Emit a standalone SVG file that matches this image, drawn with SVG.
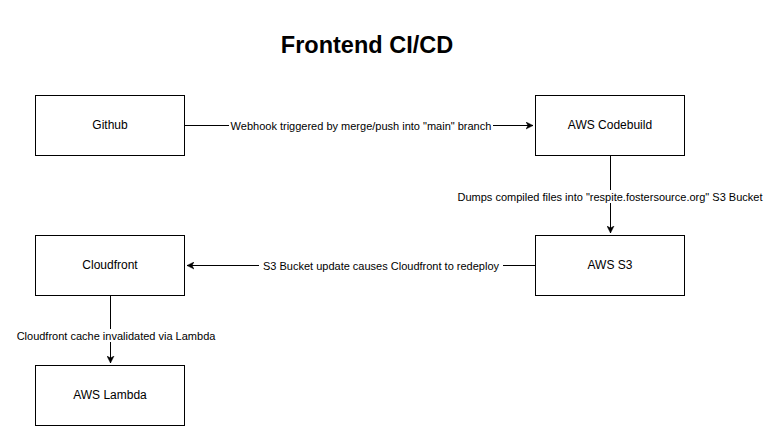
<svg xmlns="http://www.w3.org/2000/svg" width="777" height="441" viewBox="0 0 777 441">
<style>
.node rect{fill:#fff;stroke:#000;stroke-width:1}
.node text{font-family:"Liberation Sans",Arial,sans-serif;font-size:12px;fill:#000;text-anchor:middle;dominant-baseline:central}
.edge{stroke:#000;stroke-width:1;fill:none}
.lbl{font-family:"Liberation Sans",Arial,sans-serif;font-size:11px;fill:#000;text-anchor:middle;dominant-baseline:central}
.lblbg{fill:#fff}
.title{font-family:"Liberation Sans",Arial,sans-serif;font-size:23.5px;font-weight:bold;text-anchor:middle;fill:#000}
</style>
<defs>
<marker id="arr" markerWidth="8" markerHeight="8" refX="7" refY="4" orient="auto" markerUnits="userSpaceOnUse">
<path d="M0,0.5 L7,4 L0,7.5 L2,4 Z" fill="#000" stroke="#000" stroke-width="0.5"/>
</marker>
</defs>
<rect width="777" height="441" fill="#fff"/>
<text class="title" x="367" y="53">Frontend CI/CD</text>
<g id="connectors">
<path class="edge" d="M185,125.5 L533,125.5" marker-end="url(#arr)"/>
<rect class="lblbg" x="229" y="119" width="264" height="13"/>
<text class="lbl" x="361" y="126">Webhook triggered by merge/push into "main" branch</text>
<path class="edge" d="M610.5,155 L610.5,233" marker-end="url(#arr)"/>
<rect class="lblbg" x="457" y="190" width="306" height="13"/>
<text class="lbl" x="610" y="197">Dumps compiled files into "respite.fostersource.org" S3 Bucket</text>
<path class="edge" d="M535,265.5 L187,265.5" marker-end="url(#arr)"/>
<rect class="lblbg" x="259" y="259" width="244" height="13"/>
<text class="lbl" x="381" y="266">S3 Bucket update causes Cloudfront to redeploy</text>
<path class="edge" d="M110.5,295 L110.5,363" marker-end="url(#arr)"/>
<rect class="lblbg" x="16" y="329" width="200" height="13"/>
<text class="lbl" x="116" y="336">Cloudfront cache invalidated via Lambda</text>
</g>
<g id="github" class="node"><rect x="35.5" y="95.5" width="149" height="60"/><text x="110" y="125">Github</text></g>
<g id="codebuild" class="node"><rect x="535.5" y="95.5" width="149" height="60"/><text x="610" y="125">AWS Codebuild</text></g>
<g id="s3" class="node"><rect x="535.5" y="235.5" width="149" height="60"/><text x="610" y="265">AWS S3</text></g>
<g id="cloudfront" class="node"><rect x="35.5" y="235.5" width="149" height="60"/><text x="110" y="265">Cloudfront</text></g>
<g id="lambda" class="node"><rect x="35.5" y="365.5" width="149" height="60"/><text x="110" y="395">AWS Lambda</text></g>
</svg>
